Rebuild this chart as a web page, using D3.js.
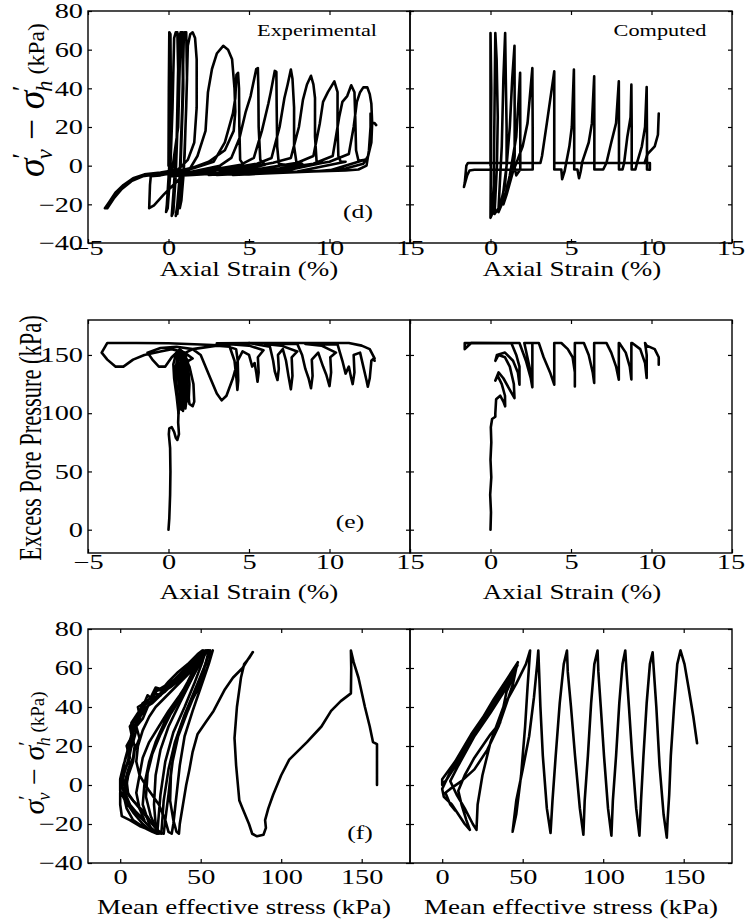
<!DOCTYPE html>
<html>
<head>
<meta charset="utf-8">
<script src="https://cdn.jsdelivr.net/npm/d3@7"></script>
<style>
body { margin: 0; background: #fff; }
text { font-family: "Liberation Serif", "Times New Roman", serif; fill: #000; }
</style>
</head>
<body>
<div id="chart"></div>
<script>
// tick values
var strainTicks = [-5, 0, 5, 10, 15];
var qTicks = [-40, -20, 0, 20, 40, 60, 80];
var uTicks = [0, 50, 100, 150];
var pTicks = [0, 50, 100, 150];

// (d) experimental : [axial strain %, q kPa]
var dExp = [
  [[0,0],[0.02,40],[0.05,69],[0.12,68],[0.15,35],[0.05,0],[-0.1,-20],[-0.15,-24],[-0.05,-22],[0.1,-5],
   [0.25,30],[0.35,66],[0.45,69],[0.55,69],[0.6,50],[0.5,10],[0.3,-15],[0.2,-26],[0.3,-24],[0.45,-5],
   [0.6,30],[0.7,68],[0.8,69],[0.9,69],[0.92,40],[0.75,0],[0.55,-20],[0.45,-26],[0.55,-22],[0.7,-5],
   [0.85,30],[0.95,66],[1.0,69],[1.1,69],[1.15,45],[1.0,5],[0.8,-15],[0.7,-22],[0.8,-18],[0.95,-3],
   [1.1,30],[1.2,62],[1.35,68],[1.5,69],[1.65,66],[1.75,55],[1.75,30],[1.6,12],[1.2,3],[0.6,-2],
   [-0.5,-3.5],[-1.5,-4.5],[-2.2,-6.5],[-2.8,-10],[-3.3,-14],[-3.7,-19],[-3.95,-22],[-3.8,-22],[-3.4,-17],
   [-2.9,-12],[-2.3,-8],[-1.6,-5.5],[-0.8,-4.5],[0.2,-4],
   [0.6,20],[0.75,69],[0.85,69],[0.9,40],[0.7,-10],[0.55,-25],[0.6,-20],[0.8,-3],
   [-0.5,-5],[-1.1,-5.5],[-1.15,-10],[-1.2,-22],[-0.9,-20.5],[-0.3,-15],[0.3,-10],[0.8,-6],
   [1.3,-2],[1.8,5],[2.3,18],[2.45,38],[2.7,50],[3.0,58],[3.4,62],[3.7,60],[3.95,55],[4.1,40],[4.15,28],
   [4.05,18],[3.5,8],[2.5,2],[1.5,-1],[0.5,-3],[-0.5,-4.5],[-1.0,-5],
   [0.5,-3.5],[1.5,-1.5],[2.8,2],[3.5,12],[4.0,27],[4.15,35],[4.22,47],[4.32,48],[4.38,40],[4.4,20],[4.45,3],[4.7,0],
   [3,-4],[1.5,-4.8],[0,-5.5],
   [1.5,-3],[3.2,0],[3.9,4],[4.4,14],[4.8,28],[5.1,36],[5.45,50],[5.55,50.5],[5.58,40],[5.6,20],[5.7,3],[6.0,0.5],
   [4,-3.5],[2,-4.2],[0.5,-4.8],
   [2,-3],[4.5,0.5],[5.3,4],[5.8,18],[6.2,32],[6.35,38],[6.6,49],[6.7,48.5],[6.72,30],[6.75,10],[6.85,1],[7.2,0.5],
   [5,-3],[3,-4],[1.5,-4.5],
   [3,-2.5],[5.5,1],[6.4,4],[6.9,20],[7.2,35],[7.4,42],[7.6,49.7],[7.7,45],[7.8,30],[7.8,10],[7.95,1.5],[8.3,1],
   [6,-3],[4,-4],[2.5,-4.8],
   [4,-2.5],[6.5,1.5],[7.6,4],[8.1,20],[8.35,34],[8.6,42],[8.85,46.5],[9.0,42],[9.1,35],[9.1,15],[9.2,2],[9.6,1.5],
   [7,-3],[5,-4],[3,-4.8],
   [5,-2.5],[8,1.5],[9,5],[9.4,22],[9.6,33],[9.9,38],[10.3,43.6],[10.5,38],[10.5,20],[10.55,5],[10.7,2],[11,2],
   [8,-3],[6,-4],[4,-4.8],
   [6,-2.5],[9,1],[10.2,5],[10.6,25],[10.8,33],[11.1,36],[11.35,41.6],[11.55,38],[11.6,25],[11.65,8],[11.8,2.5],[12.2,3],
   [10,-2.5],[7,-3.5],[5,-4.5],
   [7,-2],[10,2],[11.2,6],[11.5,20],[11.7,33],[11.9,38],[12.1,40.5],[12.35,40.5],[12.5,37],[12.6,32],[12.65,22],
   [12.6,12],[12.4,5],[12.1,1],[11,-1.5],[9,-3],[6,-4],[3,-4.5],
   [6,-3.5],[9,-3],[11,-2.5],[11.8,-2],[12.3,0],[12.45,8],[12.55,20],[12.55,27],[12.6,22],[12.8,22],[12.9,21]]
];

// (d) computed
var dMod = [
  [[0,0],[0,68.6],[0.05,40],[0.02,0],[0,-27],[0.1,-25],[0.2,-10],[0.25,30],[0.3,68.6],[0.38,55],[0.45,25],[0.4,0],
   [0.25,-25],[0.5,-22],[0.7,10],[0.8,45],[0.91,68.6],[0.95,45],[1.0,20],[1.0,0],[0.7,-20],[0.5,-24],[0.9,-10],
   [1.2,20],[1.35,45],[1.49,62],[1.5,30],[1.5,5],[1.4,-3],[1.0,-15],[0.8,-20],[1.2,-5],[1.6,15],[1.75,35],[1.84,48],
   [1.85,20],[1.85,-2],[1.6,-5],[1.5,-1],[2.0,10],[2.3,22],[2.6,50.5],[2.62,20],[2.62,-2],[1,-2.1],[-1.0,-2.1],
   [-1.3,-2.5],[-1.45,-5],[-1.65,-11],[-1.6,-9],[-1.5,0],[-1.4,1.4],[0.5,1.4],[3.1,1.4],[3.2,5],[3.5,22],[3.96,48.8],
   [3.96,20],[3.96,-2],[4.4,-2],[4.45,-7],[4.6,-3],[4.9,10],[5.05,20],[5.18,49.7],[5.2,20],[5.2,-2],[5.4,-2],[5.5,-6.5],
   [5.6,-3],[5.7,2],[6.1,12],[6.3,22],[6.44,46.2],[6.45,20],[6.45,-2],[7.0,-2],[7.2,1.4],[7.5,12],[7.8,22],[7.97,43.6],
   [7.98,20],[7.98,-2],[8.2,-2],[8.3,1.4],[8.5,15],[8.7,25],[8.75,41.9],[8.77,20],[8.77,-2],[9.0,-2],[9.1,1.4],[9.4,10],
   [9.6,20],[9.7,40.7],[9.72,15],[9.72,-2],[9.9,-2.1],[9.9,1.4],[4,1.4]],
  [[9.57,1.4],[9.75,6],[10.2,10],[10.4,16],[10.45,27]]
];

// (e) experimental : [axial strain %, excess pore pressure kPa]
var eExp = [
  [[0,0],[0.05,10],[0.1,30],[0.12,50],[0.1,70],[0.02,82],[0.05,87],[0.2,88],[0.35,84],[0.45,79],[0.55,77],[0.65,82],
   [0.6,92],[0.62,100],[0.5,115],[0.35,130],[0.3,142],[0.45,150],[0.7,148],[0.85,135],[0.9,115],[0.8,103],[0.65,108],
   [0.5,125],[0.45,140],[0.6,148],[0.85,145],[1.0,130],[1.05,112],[0.95,105],[0.8,115],[0.7,135],[0.75,147],[1.0,150],
   [1.15,140],[1.2,120],[1.3,108],[1.5,106],[1.6,110],[1.55,125],[1.3,140],[0.9,150],[0.5,152],[0.2,148],[-0.2,140],
   [-0.6,140],[-1.0,146],[-1.3,152],[-0.5,156],[0.5,157],[1.5,155],[2,150],[2.6,130],[3.0,117],[3.3,111],[3.6,115],
   [4.0,130],[4.3,145],[4.2,155],[3.5,158],[2,159],[0,160],[-2,160.3],[-3.8,160.3],[-4.15,152],[-3.8,146],[-3.3,140],
   [-2.8,140],[-2.2,146],[-1.5,150],[-0.5,153],[0.2,155],[1.0,152],[1.5,147],[1.0,143],[0.5,148],[1.5,155],[3,158],
   [3.8,157],[4.1,145],[4.22,130],[4.28,120],[4.33,128],[4.3,145],[4.6,153],[5.0,150],[5.2,140],[5.35,143],[5.45,135],
   [5.53,127],[5.6,135],[5.55,148],[5.9,154],[5,158],[4,159],[3,160],[5,160.3],[6.3,157],[6.5,145],[6.6,136],
   [6.77,128.5],[6.85,138],[6.8,150],[7.1,155],[7.3,145],[7.45,132],[7.6,120.5],[7.7,132],[7.65,148],[8,153],[7,158],
   [6,159.5],[8,159.5],[8.3,150],[8.5,138],[8.7,130],[8.85,121.4],[8.95,132],[8.9,146],[9.3,152],[9.6,140],[9.8,133],
   [10.0,123.3],[10.1,135],[10.05,148],[10.4,152],[9.5,158],[8.5,159.5],[10.5,159],[10.8,145],[11.0,134],[11.2,140],
   [11.35,130],[11.44,125],[11.55,135],[11.5,150],[11.9,152],[12.1,140],[12.3,128],[12.38,122.7],[12.5,130],[12.6,145],
   [12.75,147],[12.8,145]],
  [[12.8,147],[12.5,155],[12.0,158],[11.2,160.3],[5,160.3]],
  [[0.62,100],[0.7,120],[0.55,138],[0.5,148],[0.7,152],[0.95,140],[1.0,118],[0.9,102],[0.75,110],[0.6,130],[0.6,146],
   [0.85,150],[1.1,138],[1.15,115],[1.05,104],[0.85,120],[0.8,140],[0.95,150],[1.2,145],[1.3,125],[1.25,110],[1.1,112],
   [1.0,135],[1.1,150],[0.7,155],[0.4,150]]
];

// (e) computed
var eMod = [
  [[0,0],[0.03,15],[-0.02,30],[0.05,45],[0,60],[0.05,75],[0.02,88],[0.1,95],[0.3,97],[0.3,100],[0.35,112],[0.6,115],
   [0.8,110],[0.91,105.9],[0.9,115],[0.7,125],[0.45,132],[0.3,128],[0.5,135],[0.8,130],[1.2,120],[1.49,113],[1.45,125],
   [1.2,140],[0.9,148],[0.5,150],[0.3,145],[0.4,150],[0.9,152],[1.4,145],[1.7,135],[1.8,124.5],[1.8,140],[1.6,150],
   [1.3,160],[-1.6,160.3],[-1.6,155],[-1.45,157],[-1.2,160.3],[1.8,160.3],[2.2,145],[2.5,130],[2.6,122.2],[2.6,140],
   [2.6,160.3],[2.1,160.3],[2.45,138],[2.6,125],[2.6,160.3],[3.0,160.3],[3.3,148],[3.7,135],[3.96,124.5],[3.96,145],
   [3.96,160.3],[4.4,160.3],[4.8,155],[5.1,148],[5.24,135],[5.24,123],[5.24,160.3],[5.8,160.3],[6.1,150],[6.35,135],
   [6.44,126],[6.44,150],[6.44,160.3],[7.2,160.3],[7.5,152],[7.8,140],[7.97,128.8],[7.97,150],[7.97,160.3],[8.0,160.3],
   [8.4,152],[8.65,140],[8.75,129],[8.75,150],[8.75,160.3],[8.8,160.3],[9.3,155],[9.6,143],[9.7,130.2],[9.7,150],
   [9.6,160.3],[9.7,158],[10.2,155],[10.45,148],[10.45,141.6]]
];

// (f) experimental : [mean effective stress kPa, q kPa]
var fExp = [
  [[159.5,0],[159.5,21],[157,22],[155,30],[152,40],[148,55],[145,63],[143.3,69],[143.5,60],[143.3,47],[137,43],
   [131,38],[125,30],[116,22],[105,13],[100,5],[95,-5],[92,-12],[90,-18],[90.5,-22],[89,-25.5],[85,-26.3],[82,-25],
   [80,-20],[76,-12],[74,-8],[72,10],[71,24],[72.5,40],[75,55],[77,62],[80,65],[82.4,68.2],[79,64],[76,60],[70,55],
   [65,49],[58,38],[53,32],[48,26],[45,17],[43,8],[41,0],[39,-10],[37,-20],[36.5,-25],[35,-24],[33,-18],[31,-8],
   [31.5,5],[33,15],[36,26],[40,35],[45,44],[50,52],[54,60],[56,66],[57.5,69],
   [55,62],[50,50],[45,38],[40,25],[37,10],[35,-5],[33,-20],[32,-25],[30,-24],[28,-18],[24,-10],[18,-3],[12,5],
   [10,12],[11,20],[14,28],[18,35],[22,40],[28,45],[34,50],[40,55],[46,60],[51,66],[55,69],
   [53,62],[48,50],[42,38],[36,25],[32,10],[30,-5],[28,-18],[27,-25],[24,-24],[20,-20],[15,-14],[8,-8],[3,-2],[1,5],
   [3,13],[6,22],[9,30],[12,36],[16,40],[20,42],[25,46],[30,50],[38,56],[45,62],[50,67],[53,69],
   [51,63],[46,52],[40,40],[33,27],[28,12],[25,-5],[23.5,-20],[23,-25],[20,-24],[14,-20],[8,-14],[3,-8],[0,-3],[0,3],
   [2,10],[5,18],[7,26],[6,30],[9,33],[12,38],[14,42],[18,44],[22,48],[28,51],[34,54],[40,58],[47,64],[52,69],
   [49,62],[43,52],[37,42],[30,30],[25,18],[22,5],[21,-10],[22,-20],[22.5,-24],[18,-23],[12,-21],[6,-18],[1,-16],
   [0,-10],[0,-4],[1,3],[4,10],[6,16],[8,24],[6,30],[10,35],[14,40],[19,45],[22,50],[26,49],[30,53],[36,58],[42,62],
   [48,67],[51,69],
   [48,63],[42,53],[36,44],[28,33],[22,22],[18,12],[15,0],[14,-10],[18,-20],[20,-24],[15,-22],[8,-18],[4,-12],[2,-5],
   [3,2],[5,8],[8,14],[9,20],[7,25],[10,30],[13,36],[16,38],[18,42],[23,45],[28,48],[33,52],[38,56],[44,61],[50,67],
   [54,69],
   [50,64],[44,55],[37,46],[30,38],[24,30],[18,22],[14,14],[12,5],[10,-4],[12,-12],[15,-18],[10,-14],[6,-10],[3,-4],
   [5,5],[8,12],[9,18],[12,24],[10,30],[14,34],[17,40],[20,44],[25,47],[31,50],[37,54],[44,60],[50,66],[55,69],
   [56,66],[55,62]],
  [[56,69],[52,60],[46,48],[40,36],[34,22],[30,8],[27,-8],[26,-20],[25.5,-25],[22,-22],[16,-16],[10,-10],[5,-5],[4,2],
   [6,10],[5,16],[8,22],[10,28],[8,32],[12,36],[11,40],[15,42],[17,46],[20,44],[23,49],[27,48],[31,52],[37,57],[43,62],
   [49,67],[54,69],[50,63],[44,54],[38,45],[31,36],[25,26],[20,16],[17,6],[16,-6],[19,-16],[24,-25],[19,-22],[13,-17],
   [7,-12],[3,-6],[1,0],[3,8],[6,14],[4,20],[8,26],[7,32],[11,37],[13,36],[15,41],[19,43],[21,47],[25,46],[28,50],
   [33,53],[39,57],[45,62],[51,68],[55,69]]
];

// (f) computed
var fMod = [
  [[158.3,21.4],[156,35],[153,50],[150.5,62],[148,69],[146,62],[144,40],[142,15],[141,-5],[140,-18],[139.5,-27],
   [137.5,-15],[135,10],[133,40],[131.5,58],[130.7,68],[129,62],[127,42],[125,15],[123.5,-8],[122.5,-26],[120.5,-12],
   [118,15],[116,40],[114.5,58],[113.7,69],[112,62],[110,42],[108,15],[106,-8],[105.1,-26],[103,-12],[100.5,15],
   [98.5,40],[97,58],[96.5,69],[94.5,62],[92.5,42],[90.5,15],[88.5,-8],[87.7,-25.5],[85.5,-12],[82.5,15],[80,40],
   [78,58],[77.5,69],[75.5,62],[73,42],[70.5,15],[68.5,-8],[67.3,-24.6],[65,-12],[62.5,15],[61,40],[60.2,58],
   [59.7,69],[59,62],[57,45],[54,25],[50,8],[46,-8],[43.7,-24],[46,-15],[49,5],[51.5,30],[53,50],[54.6,69],[52,62],
   [46,52],[38,40],[30,22],[25,5],[22,-10],[21.3,-23],[19,-20],[14,-12],[9,-5],[5,2],[10,10],[18,22],[26,34],
   [34,44],[42,55],[46.8,61.5],[40,50],[30,37],[20,25],[10,12],[3,3],[0,0],[0,3],[8,12],[18,26],[28,38],[38,50],
   [45,58],[47,63],[40,54],[32,44],[22,30],[12,16],[4,5],[0,-2],[1,-6],[6,-10],[10,-15],[14,-20],[17.2,-23],
   [15,-18],[12,-10],[10,-3],[14,5],[20,14],[30,26],[36,32],[38,40],[40,48],[44,55],[46,60],[44,52],[40,42],
   [35,30],[28,18],[20,8],[12,2],[5,-2],[2,-4],[5,-10],[8,-13]]
];

var W = 745, H = 921;
var SX = 1.35; // the source figure is stretched sideways, text too

var svg = d3.select('#chart').append('svg')
  .attr('width', W)
  .attr('height', H)
  .style('background', '#fff');

var fmt = d3.format('d');

function drawPanel(p) {
  var x = d3.scaleLinear().domain(p.xDom).range([p.left, p.right]);
  var y = d3.scaleLinear().domain(p.yDom).range([p.bottom, p.top]);

  svg.append('clipPath').attr('id', 'clip-' + p.name)
    .append('rect')
    .attr('x', p.left).attr('y', p.top)
    .attr('width', p.right - p.left).attr('height', p.bottom - p.top);

  var line = d3.line().x(function(d){ return x(d[0]); }).y(function(d){ return y(d[1]); });

  svg.append('g')
    .attr('clip-path', 'url(#clip-' + p.name + ')')
    .selectAll('path')
    .data(p.segs)
    .join('path')
    .attr('d', line)
    .attr('fill', 'none')
    .attr('stroke', '#000')
    .attr('stroke-width', 2.6)
    .attr('stroke-linejoin', 'round')
    .attr('stroke-linecap', 'round');

  // bottom axis, ticks inside
  var gb = svg.append('g')
    .attr('transform', 'translate(0,' + p.bottom + ')')
    .call(d3.axisBottom(x).tickValues(p.xTicks).tickSize(-4).tickSizeOuter(0).tickPadding(p.xPad)
      .tickFormat(function(d){ return p.xLabels.indexOf(d) >= 0 ? fmt(d) : ''; }));
  // top axis
  var gt = svg.append('g')
    .attr('transform', 'translate(0,' + p.top + ')')
    .call(d3.axisTop(x).tickValues(p.xTicks).tickSize(-4).tickSizeOuter(0).tickFormat(''));
  // left axis
  var gl = svg.append('g')
    .attr('transform', 'translate(' + p.left + ',0)')
    .call(d3.axisLeft(y).tickValues(p.yTicks).tickSize(-4).tickSizeOuter(0).tickPadding(4)
      .tickFormat(function(d){ return p.yLabels ? fmt(d) : ''; }));
  // right axis
  var gr = svg.append('g')
    .attr('transform', 'translate(' + p.right + ',0)')
    .call(d3.axisRight(y).tickValues(p.yTicks).tickSize(-4).tickSizeOuter(0).tickFormat(''));

  [gb, gt, gl, gr].forEach(function(g){
    g.select('.domain').remove();
    g.selectAll('line').attr('stroke', '#000').attr('stroke-width', 1.2);
    g.attr('font-family', null).attr('font-size', null);
    g.selectAll('text')
      .attr('font-size', '21px')
      .attr('fill', '#000');
  });
  gb.selectAll('text').attr('font-size', '20px').attr('transform', 'scale(' + (SX * 1.05) + ',1)');
  gl.selectAll('text').attr('x', -5 / SX).attr('transform', 'scale(' + SX + ',1)');
  // keep the last right-hand label inside the page
  if (p.right > 700) {
    gb.selectAll('.tick').filter(function(d){ return d === 15; })
      .select('text').attr('text-anchor', 'end').attr('x', 12 / SX);
  }

  svg.append('rect')
    .attr('x', p.left).attr('y', p.top)
    .attr('width', p.right - p.left).attr('height', p.bottom - p.top)
    .attr('fill', 'none')
    .attr('stroke', '#000')
    .attr('stroke-width', 1.4);

  // x axis title
  svg.append('text')
    .attr('transform', 'translate(' + p.titleX + ',' + p.titleY + ') scale(' + SX + ',1)')
    .attr('text-anchor', 'middle')
    .attr('font-size', '20px')
    .text(p.xTitle);
}

var colL = [88, 410], colR = [410, 732];

var panels = [
  {name: 'dExp', left: colL[0], right: colL[1], top: 11, bottom: 243, xDom: [-5, 15], yDom: [-40, 80],
   xTicks: strainTicks, xLabels: strainTicks, yTicks: qTicks, yLabels: true, segs: dExp, xPad: -2,
   xTitle: 'Axial Strain (%)', titleX: 249, titleY: 276},
  {name: 'dMod', left: colR[0], right: colR[1], top: 11, bottom: 243, xDom: [-5, 15], yDom: [-40, 80],
   xTicks: strainTicks, xLabels: [0, 5, 10, 15], yTicks: qTicks, yLabels: false, segs: dMod, xPad: -2,
   xTitle: 'Axial Strain (%)', titleX: 572, titleY: 276},
  {name: 'eExp', left: colL[0], right: colL[1], top: 320, bottom: 553, xDom: [-5, 15], yDom: [-20, 180],
   xTicks: strainTicks, xLabels: strainTicks, yTicks: uTicks, yLabels: true, segs: eExp, xPad: 2,
   xTitle: 'Axial Strain (%)', titleX: 249, titleY: 599},
  {name: 'eMod', left: colR[0], right: colR[1], top: 320, bottom: 553, xDom: [-5, 15], yDom: [-20, 180],
   xTicks: strainTicks, xLabels: [0, 5, 10, 15], yTicks: uTicks, yLabels: false, segs: eMod, xPad: 2,
   xTitle: 'Axial Strain (%)', titleX: 572, titleY: 599},
  {name: 'fExp', left: colL[0], right: colL[1], top: 629, bottom: 863, xDom: [-20, 180], yDom: [-40, 80],
   xTicks: pTicks, xLabels: pTicks, yTicks: qTicks, yLabels: true, segs: fExp, xPad: 7,
   xTitle: 'Mean effective stress (kPa)', titleX: 244, titleY: 914},
  {name: 'fMod', left: colR[0], right: colR[1], top: 629, bottom: 863, xDom: [-20, 180], yDom: [-40, 80],
   xTicks: pTicks, xLabels: pTicks, yTicks: qTicks, yLabels: false, segs: fMod, xPad: 7,
   xTitle: 'Mean effective stress (kPa)', titleX: 571, titleY: 914}
];

panels.forEach(drawPanel);

// panel notes
function note(x, y, str, size) {
  svg.append('text')
    .attr('transform', 'translate(' + x + ',' + y + ') scale(' + SX + ',1)')
    .attr('text-anchor', 'middle')
    .attr('font-size', size + 'px')
    .text(str);
}
note(317, 36, 'Experimental', 16.5);
note(660, 36, 'Computed', 16.5);
note(358, 218, '(d)', 19);
note(350, 528, '(e)', 19);
note(360, 839, '(f)', 19);

// y titles
function sigmaTitle(cx, cy, s) {
  var t = svg.append('text')
    .attr('transform', 'translate(' + cx + ',' + cy + ') rotate(-90)')
    .attr('text-anchor', 'middle')
    .attr('font-size', (30 * s) + 'px');
  t.append('tspan').attr('font-style', 'italic').text('σ');
  t.append('tspan').attr('font-size', (20 * s) + 'px').attr('dy', -11 * s).text('′');
  t.append('tspan').attr('font-size', (18 * s) + 'px').attr('font-style', 'italic').attr('dx', -5 * s).attr('dy', 17 * s).text('v');
  t.append('tspan').attr('dy', -6 * s).text(' − ');
  t.append('tspan').attr('font-style', 'italic').text('σ');
  t.append('tspan').attr('font-size', (20 * s) + 'px').attr('dy', -11 * s).text('′');
  t.append('tspan').attr('font-size', (18 * s) + 'px').attr('font-style', 'italic').attr('dx', -5 * s).attr('dy', 17 * s).text('h');
  t.append('tspan').attr('font-size', (19 * s) + 'px').attr('dy', -6 * s).text(' (kPa)');
}
sigmaTitle(44, 100, 1.25);
sigmaTitle(44, 753, 1.0);

svg.append('text')
  .attr('transform', 'translate(41,438) rotate(-90) scale(1,1.4)')
  .attr('text-anchor', 'middle')
  .attr('font-size', '22.5px')
  .text('Excess Pore Pressure (kPa)');
</script>
</body>
</html>
